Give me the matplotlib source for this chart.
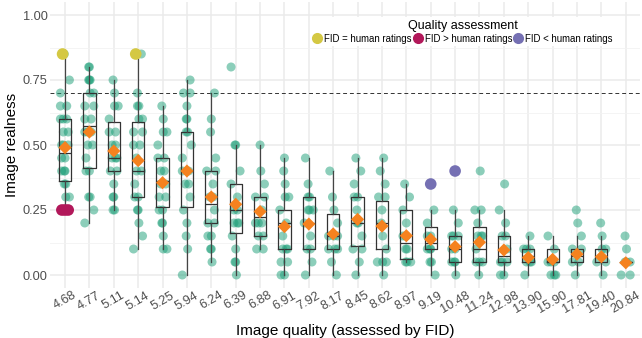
import matplotlib

matplotlib.use("Agg")
import matplotlib.pyplot as plt
from matplotlib.lines import Line2D

plt.rcParams["font.family"] = ["Liberation Sans", "DejaVu Sans"]

fid_labels = ["4.68", "4.77", "5.11", "5.14", "5.25", "5.94", "6.24", "6.39",
              "6.88", "6.91", "7.92", "8.17", "8.45", "8.62", "8.97", "9.19",
              "10.48", "11.24", "12.98", "13.90", "15.90", "17.81", "19.40", "20.84"]

# realness ratings per image, one list per FID level
ratings = [
    [0.85, 0.75, 0.70, 0.65, 0.65, 0.60, 0.60, 0.60, 0.55, 0.55, 0.50, 0.50, 0.50, 0.45, 0.45, 0.40, 0.40, 0.40, 0.35, 0.35, 0.30, 0.30],
    [0.80, 0.80, 0.75, 0.75, 0.75, 0.70, 0.70, 0.65, 0.65, 0.60, 0.60, 0.55, 0.55, 0.55, 0.50, 0.50, 0.45, 0.40, 0.40, 0.30, 0.30, 0.25, 0.20],
    [0.75, 0.70, 0.65, 0.65, 0.60, 0.55, 0.55, 0.50, 0.50, 0.45, 0.45, 0.45, 0.40, 0.40, 0.35, 0.30, 0.30, 0.25, 0.25],
    [0.85, 0.70, 0.65, 0.65, 0.60, 0.60, 0.55, 0.55, 0.50, 0.50, 0.45, 0.40, 0.40, 0.35, 0.30, 0.30, 0.25, 0.25, 0.20, 0.15, 0.10],
    [0.65, 0.60, 0.55, 0.55, 0.50, 0.45, 0.45, 0.40, 0.40, 0.35, 0.35, 0.30, 0.30, 0.25, 0.25, 0.20, 0.20, 0.15, 0.10, 0.10],
    [0.75, 0.70, 0.70, 0.65, 0.60, 0.60, 0.55, 0.55, 0.50, 0.45, 0.40, 0.40, 0.35, 0.35, 0.30, 0.25, 0.20, 0.15, 0.10, 0.00],
    [0.70, 0.60, 0.55, 0.45, 0.40, 0.40, 0.35, 0.30, 0.30, 0.25, 0.20, 0.20, 0.15, 0.15, 0.10, 0.10, 0.05],
    [0.80, 0.50, 0.50, 0.40, 0.35, 0.30, 0.25, 0.25, 0.20, 0.20, 0.20, 0.15, 0.10, 0.05, 0.05, 0.00],
    [0.50, 0.40, 0.35, 0.30, 0.30, 0.25, 0.20, 0.20, 0.20, 0.15, 0.15, 0.10, 0.10],
    [0.45, 0.40, 0.35, 0.30, 0.30, 0.25, 0.20, 0.15, 0.10, 0.10, 0.10, 0.05, 0.05, 0.00, 0.00],
    [0.45, 0.35, 0.30, 0.30, 0.25, 0.25, 0.25, 0.20, 0.15, 0.10, 0.10, 0.05, 0.00],
    [0.40, 0.30, 0.25, 0.20, 0.15, 0.15, 0.15, 0.10, 0.10, 0.10, 0.05, 0.00],
    [0.45, 0.40, 0.35, 0.30, 0.30, 0.25, 0.20, 0.20, 0.15, 0.10, 0.10, 0.05, 0.00],
    [0.45, 0.40, 0.35, 0.30, 0.30, 0.25, 0.20, 0.15, 0.10, 0.05, 0.05, 0.05, 0.00],
    [0.35, 0.30, 0.25, 0.20, 0.15, 0.15, 0.15, 0.10, 0.10, 0.05, 0.05, 0.05],
    [0.25, 0.20, 0.15, 0.15, 0.10, 0.10, 0.10, 0.05, 0.05, 0.00],
    [0.25, 0.20, 0.15, 0.15, 0.15, 0.10, 0.10, 0.05, 0.05, 0.05, 0.00],
    [0.40, 0.25, 0.25, 0.20, 0.15, 0.15, 0.15, 0.10, 0.05, 0.05, 0.05, 0.00],
    [0.35, 0.25, 0.20, 0.15, 0.15, 0.10, 0.05, 0.05, 0.05, 0.00, 0.00],
    [0.15, 0.10, 0.10, 0.10, 0.05, 0.05, 0.05, 0.00],
    [0.15, 0.10, 0.05, 0.05, 0.05, 0.00, 0.00, 0.00],
    [0.25, 0.20, 0.15, 0.10, 0.10, 0.05, 0.05, 0.00],
    [0.20, 0.15, 0.10, 0.10, 0.05, 0.05, 0.00],
    [0.15, 0.10, 0.05, 0.05, 0.05, 0.00, 0.00],
]

# box summaries
q1 = [0.36, 0.41, 0.40, 0.30, 0.26, 0.26, 0.20, 0.16, 0.15, 0.10, 0.10, 0.10,
      0.11, 0.10, 0.06, 0.10, 0.05, 0.05, 0.05, 0.05, 0.05, 0.05, 0.05, 0.05]
med = [0.47, 0.575, 0.45, 0.40, 0.36, 0.40, 0.275, 0.25, 0.225, 0.20, 0.20, 0.15,
       0.20, 0.20, 0.125, 0.125, 0.10, 0.10, 0.075, 0.075, 0.05, 0.075, 0.075, 0.05]
q3 = [0.60, 0.70, 0.59, 0.59, 0.45, 0.55, 0.40, 0.35, 0.30, 0.25, 0.30, 0.235,
      0.30, 0.285, 0.25, 0.185, 0.15, 0.185, 0.15, 0.10, 0.10, 0.10, 0.10, 0.05]
whislo = [0.25, 0.20, 0.25, 0.10, 0.10, 0.00, 0.05, 0.00, 0.10, 0.00, 0.00, 0.00,
          0.00, 0.00, 0.05, 0.00, 0.00, 0.00, 0.00, 0.00, 0.00, 0.00, 0.00, 0.05]
whishi = [0.85, 0.80, 0.75, 0.85, 0.65, 0.75, 0.70, 0.50, 0.50, 0.45, 0.45, 0.40,
          0.45, 0.45, 0.35, 0.25, 0.25, 0.25, 0.25, 0.15, 0.15, 0.15, 0.15, 0.05]
means = [0.49, 0.55, 0.477, 0.44, 0.355, 0.40, 0.30, 0.272, 0.244, 0.186, 0.196, 0.158,
         0.214, 0.188, 0.151, 0.137, 0.109, 0.126, 0.096, 0.067, 0.06, 0.08, 0.07, 0.047]

# highlighted images: (FID level index, rating, group)
hl_idx = [0, 3, 0, 0, 0, 15, 16]
hl_val = [0.85, 0.85, 0.25, 0.25, 0.25, 0.35, 0.40]
hl_grp = ["eq", "eq", "gt", "gt", "gt", "lt", "lt"]

GROUPS = [("eq", "FID = human ratings", "#d4c843"),
          ("gt", "FID > human ratings", "#b2185a"),
          ("lt", "FID < human ratings", "#7570b3")]
TEAL = "#1b9e77"
ORANGE = "#f5821f"
JIT = [0.0, -0.14, 0.13, -0.07, 0.07, -0.19, 0.18, 0.03, -0.03]
HL_OFF = {"eq": [-0.1], "gt": [-0.13, 0.0, 0.13], "lt": [0.0]}


def jitter(vals, ci):
    seen = {}
    out = []
    for v in vals:
        k = seen.get(v, 0)
        seen[v] = k + 1
        out.append(JIT[(k + int(round(v * 20)) + ci) % len(JIT)])
    return out


fig = plt.figure(figsize=(6.42, 3.38), dpi=100)
ax = fig.add_axes([50.4 / 642, 50 / 338, 590 / 642, 286 / 338])

pos = list(range(1, len(fid_labels) + 1))

for ci, vals in enumerate(ratings):
    offs = jitter(vals, ci)
    ax.scatter([pos[ci] + o for o in offs], vals, s=42, color=TEAL, alpha=0.5,
               edgecolors="none", zorder=2)

stats = []
for i in range(len(fid_labels)):
    stats.append(dict(q1=q1[i], med=med[i], q3=q3[i], whislo=whislo[i],
                      whishi=whishi[i], fliers=[]))
ax.bxp(stats, positions=pos, widths=0.5, showcaps=False, showfliers=False,
       patch_artist=False,
       boxprops=dict(color="#333333", linewidth=0.9),
       whiskerprops=dict(color="#444444", linewidth=0.9),
       medianprops=dict(color="#333333", linewidth=0.9),
       zorder=3)

ax.scatter(pos, means, marker="D", s=45, color=ORANGE, edgecolors="none", zorder=4)

colors = {g: c for g, _, c in GROUPS}
count = {}
for i, v, g in zip(hl_idx, hl_val, hl_grp):
    k = count.get((i, v), 0)
    count[(i, v)] = k + 1
    off = HL_OFF[g][k % len(HL_OFF[g])]
    ax.scatter([pos[i] + off], [v], s=70, color=colors[g], edgecolors="none", zorder=5)

ax.axhline(0.70, color="#333333", linestyle=(0, (4, 3)), linewidth=0.7, zorder=1)

ax.set_xlim(0.4, len(fid_labels) + 0.6)
ax.set_ylim(-0.05, 1.05)
ax.set_yticks([0, 0.25, 0.5, 0.75, 1.0])
ax.set_yticklabels(["0.00", "0.25", "0.50", "0.75", "1.00"])
ax.set_yticks([0.125, 0.375, 0.625, 0.875], minor=True)
ax.set_xticks(pos)
ax.set_xticklabels(fid_labels, rotation=30, ha="center", va="top")
ax.tick_params(axis="both", which="both", length=0, labelsize=9.2, colors="#4d4d4d")
ax.tick_params(axis="x", pad=1)
ax.tick_params(axis="y", pad=2)
ax.grid(True, which="major", color="#ebebeb", linewidth=1.1, zorder=0)
ax.grid(True, which="minor", axis="y", color="#f2f2f2", linewidth=0.6, zorder=0)
ax.set_axisbelow(True)
for s in ax.spines.values():
    s.set_visible(False)

ax.set_xlabel("Image quality (assessed by FID)", fontsize=11, labelpad=6)
ax.set_ylabel("Image realness", fontsize=11, labelpad=3)

handles = [Line2D([], [], marker="o", linestyle="", color=c, markersize=7, label=lab)
           for _, lab, c in GROUPS]
leg = ax.legend(handles=handles, title="Quality assessment", ncol=3, fontsize=6.9,
                title_fontsize=9, loc="upper center",
                bbox_to_anchor=(463 / 642, 1 - 12 / 338), bbox_transform=fig.transFigure,
                frameon=True, facecolor="white", edgecolor="none", framealpha=1,
                handletextpad=0.3, columnspacing=0.25, borderpad=0.3,
                handlelength=0.8, labelspacing=0.2)
leg.set_zorder(6)

fig.savefig("out.png", dpi=100)
